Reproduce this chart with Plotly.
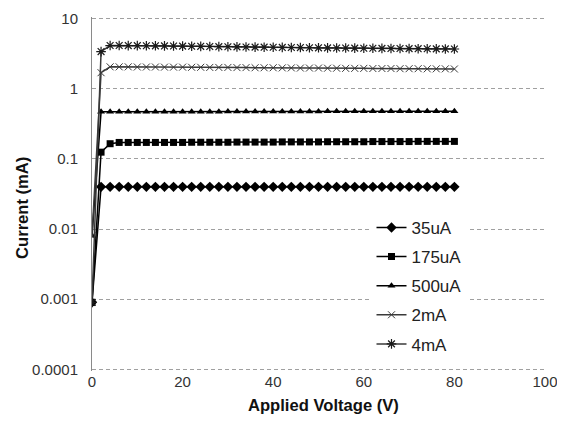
import plotly.graph_objects as go

voltage = [0, 2, 4, 6, 8, 10, 12, 14, 16, 18, 20, 22, 24, 26, 28, 30, 32, 34, 36, 38, 40,
           42, 44, 46, 48, 50, 52, 54, 56, 58, 60, 62, 64, 66, 68, 70, 72, 74, 76, 78, 80]

i_35uA = [0.0009, 0.04, 0.04, 0.04, 0.04, 0.04, 0.04, 0.04, 0.04, 0.04, 0.04,
          0.04, 0.04, 0.04, 0.04, 0.04, 0.04, 0.04, 0.04, 0.04, 0.04,
          0.04, 0.04, 0.04, 0.04, 0.04, 0.04, 0.04, 0.04, 0.04, 0.04,
          0.04, 0.04, 0.04, 0.04, 0.04, 0.04, 0.04, 0.04, 0.04, 0.04]

i_175uA = [0.0009, 0.125, 0.165, 0.172, 0.172, 0.172, 0.172, 0.172, 0.172, 0.172, 0.172,
           0.173, 0.173, 0.173, 0.173, 0.173, 0.174, 0.174, 0.174, 0.174, 0.174,
           0.175, 0.175, 0.175, 0.175, 0.175, 0.176, 0.176, 0.176, 0.176, 0.176,
           0.177, 0.177, 0.177, 0.177, 0.177, 0.178, 0.178, 0.178, 0.178, 0.178]

i_500uA = [0.008, 0.47, 0.47, 0.47, 0.47, 0.47, 0.47, 0.47, 0.47, 0.47, 0.47,
           0.47, 0.47, 0.47, 0.47, 0.475, 0.475, 0.475, 0.475, 0.475, 0.475,
           0.475, 0.475, 0.475, 0.475, 0.475, 0.48, 0.48, 0.48, 0.48, 0.48,
           0.48, 0.48, 0.48, 0.48, 0.48, 0.48, 0.48, 0.48, 0.48, 0.48]

i_2mA = [0.008, 1.7, 2.06, 2.06, 2.06, 2.05, 2.05, 2.05, 2.04, 2.04, 2.04,
         2.03, 2.03, 2.02, 2.02, 2.02, 2.01, 2.01, 2.0, 2.0, 2.0,
         1.99, 1.99, 1.98, 1.98, 1.98, 1.97, 1.97, 1.96, 1.96, 1.96,
         1.95, 1.95, 1.95, 1.94, 1.94, 1.94, 1.93, 1.93, 1.93, 1.92]

i_4mA = [0.0009, 3.4, 4.15, 4.15, 4.14, 4.13, 4.12, 4.11, 4.1, 4.08, 4.07,
         4.05, 4.04, 4.02, 4.0, 3.99, 3.97, 3.96, 3.94, 3.93, 3.92,
         3.9, 3.89, 3.88, 3.86, 3.85, 3.84, 3.83, 3.82, 3.81, 3.8,
         3.79, 3.78, 3.77, 3.76, 3.75, 3.74, 3.73, 3.72, 3.71, 3.7]

series_names = ["35uA", "175uA", "500uA", "2mA", "4mA"]
series_values = [i_35uA, i_175uA, i_500uA, i_2mA, i_4mA]
styles = [
    dict(symbol="diamond", size=8, mcolor="#000000", lcolor="#000000", mline=0),
    dict(symbol="square", size=7, mcolor="#000000", lcolor="#000000", mline=0),
    dict(symbol="triangle-up", size=7, mcolor="#000000", lcolor="#000000", mline=0),
    dict(symbol="x-thin-open", size=7, mcolor="#3a3a3a", lcolor="#3a3a3a", mline=1),
    dict(symbol="asterisk-open", size=8, mcolor="#1a1a1a", lcolor="#3a3a3a", mline=1.2),
]

y_ticks = [0.0001, 0.001, 0.01, 0.1, 1, 10]
y_tick_text = ["0.0001", "0.001", "0.01", "0.1", "1", "10"]
x_ticks = [0, 20, 40, 60, 80, 100]

fig = go.Figure()
for name, vals, st in zip(series_names, series_values, styles):
    fig.add_trace(go.Scatter(
        x=voltage, y=vals, name=name, mode="lines+markers", legendgroup=name,
        line=dict(color=st["lcolor"], width=1.5),
        marker=dict(symbol=st["symbol"], size=st["size"], color=st["mcolor"],
                    line=dict(color=st["mcolor"], width=st["mline"])),
    ))

fig.update_layout(
    width=557, height=408,
    margin=dict(l=84, r=20, t=9, b=45, autoexpand=False),
    paper_bgcolor="white", plot_bgcolor="white",
    font=dict(family="Liberation Sans, Arial, sans-serif", size=13, color="#333333"),
    showlegend=True,
    legend=dict(x=0.617, y=0.455, xanchor="left", yanchor="top",
                bgcolor="white", borderwidth=0, itemwidth=30,
                font=dict(size=17, color="#222222"), tracegroupgap=4),
    xaxis=dict(range=[0, 100], tickvals=x_ticks, showgrid=False, zeroline=False,
               showline=False, ticks="",
               automargin=False, tickfont=dict(size=15, color="#333333")),
    yaxis=dict(type="log", range=[-4.025, 1.025], tickvals=y_ticks, ticktext=y_tick_text,
               showgrid=True, gridcolor="#a0a0a0", griddash="4px,3px", gridwidth=1,
               showline=True, linecolor="#8a8a8a", linewidth=1, zeroline=False,
               ticks="outside", ticklen=10, tickcolor="rgba(0,0,0,0)",
               automargin=False, tickfont=dict(size=15, color="#333333")),
    annotations=[
        dict(text="<b>Applied Voltage (V)</b>", xref="paper", yref="paper",
             x=0.51, y=-0.098, xanchor="center", yanchor="middle", showarrow=False,
             font=dict(size=16.6, color="#111111")),
        dict(text="<b>Current (mA)</b>", xref="paper", yref="paper",
             x=-0.155, y=0.46, xanchor="center", yanchor="middle", showarrow=False,
             textangle=-90, font=dict(size=16.6, color="#111111")),
    ],
)

fig.write_html("out.html")
